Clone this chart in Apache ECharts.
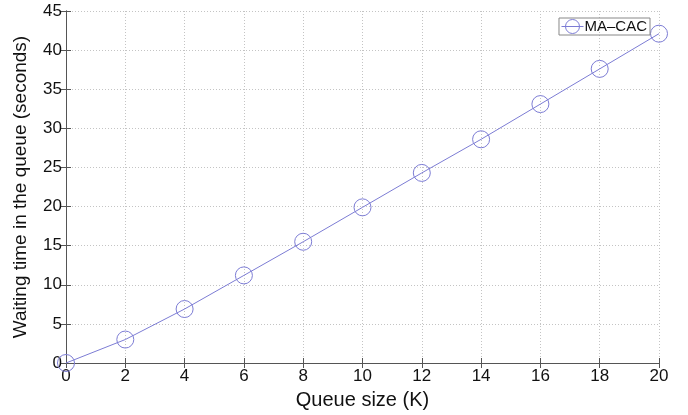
<!DOCTYPE html>
<html><head><meta charset="utf-8">
<script src="https://cdn.jsdelivr.net/npm/echarts@6/dist/echarts.min.js"></script>
<style>html,body{margin:0;padding:0;background:#fff}#c{width:688px;height:415px}</style>
</head><body><div id="c"></div>
<script>
const queueSize = [0, 2, 4, 6, 8, 10, 12, 14, 16, 18, 20];
const waitingTime = [0, 3.0, 6.9, 11.2, 15.5, 19.9, 24.3, 28.6, 33.1, 37.6, 42.1];
const seriesName = 'MA\u2013CAC';
const xTitle = 'Queue size (K)';
const yTitle = 'Waiting time in the queue (seconds)';

const chart = echarts.init(document.getElementById('c'));
const font = 'Liberation Sans, Arial, sans-serif';
const lineColor = '#7c7cd4';
const axisLine = {show: true, lineStyle: {color: '#555', width: 1}};
const tick = {inside: true, length: 5, lineStyle: {color: '#555'}};
const grid = {show: true, lineStyle: {color: '#c4c4c4', type: [1, 2], width: 1}};
chart.setOption({
  animation: false,
  grid: {left: 66, right: 29, top: 11, bottom: 52, show: false},
  legend: {
    data: [{name: seriesName,
      icon: 'path://M0,7 L22,7 M18,7 A7,7 0 1 1 4,7 A7,7 0 1 1 18,7'}],
    right: 38, top: 18, orient: 'vertical',
    borderColor: '#888', borderWidth: 1, padding: [1, 3, 1, 2],
    itemWidth: 22, itemHeight: 14, itemGap: 0,
    itemStyle: {color: 'transparent', borderColor: lineColor, borderWidth: 1},
    textStyle: {fontFamily: font, fontSize: 15, color: '#111', padding: [0, 0, 0, -4]}
  },
  xAxis: [{
    type: 'value', min: 0, max: 20, interval: 2,
    axisLine: axisLine, axisTick: tick,
    axisLabel: {fontFamily: font, fontSize: 17, color: '#111', margin: 5},
    splitLine: grid,
    name: xTitle, nameLocation: 'middle', nameGap: 27,
    nameTextStyle: {fontFamily: font, fontSize: 20, color: '#111'}
  }, {
    type: 'value', position: 'top', min: 0, max: 20, interval: 2,
    axisLine: axisLine, axisTick: tick,
    axisLabel: {show: false}, splitLine: {show: false}
  }],
  yAxis: [{
    type: 'value', min: 0, max: 45, interval: 5,
    axisLine: axisLine, axisTick: tick,
    axisLabel: {fontFamily: font, fontSize: 17, color: '#111', margin: 4},
    splitLine: grid,
    name: yTitle, nameLocation: 'middle', nameGap: 36,
    nameTextStyle: {fontFamily: font, fontSize: 19, color: '#111'}
  }, {
    type: 'value', position: 'right', min: 0, max: 45, interval: 5,
    axisLine: axisLine, axisTick: tick,
    axisLabel: {show: false}, splitLine: {show: false}
  }],
  series: [{
    name: seriesName, type: 'line',
    data: queueSize.map((x, i) => [x, waitingTime[i]]),
    symbol: 'circle', symbolSize: 17, showAllSymbol: true,
    lineStyle: {color: lineColor, width: 1},
    itemStyle: {color: 'transparent', borderColor: lineColor, borderWidth: 1},
    emphasis: {disabled: true},
    clip: false
  }]
});
</script></body></html>
